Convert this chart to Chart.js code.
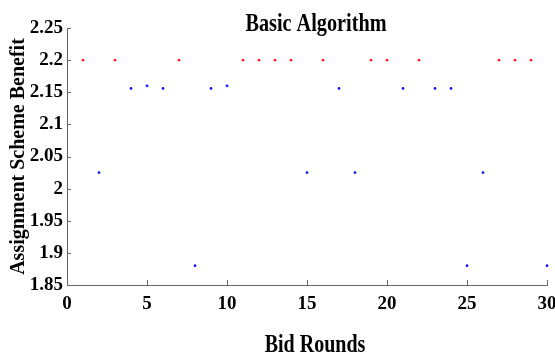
<!DOCTYPE html>
<html>
<head>
<meta charset="utf-8">
<script src="https://cdn.jsdelivr.net/npm/chart.js@4"></script>
<style>
  body { margin: 0; background: #fff; }
  #wrap { width: 555px; height: 355px; }
</style>
</head>
<body>
<div id="wrap"><canvas id="chartCanvas" width="555" height="355"></canvas></div>
<script>
const rounds = [1, 2, 3, 4, 5, 6, 7, 8, 9, 10, 11, 12, 13, 14, 15,
                16, 17, 18, 19, 20, 21, 22, 23, 24, 25, 26, 27, 28, 29, 30];
// red dots (top level) and blue dots, null where the round has none
const redBenefit = [2.2, null, 2.2, null, null, null, 2.2, null, null, null,
                    2.2, 2.2, 2.2, 2.2, null, 2.2, null, null, 2.2, 2.2,
                    null, 2.2, null, null, null, null, 2.2, 2.2, 2.2, null];
const blueBenefit = [null, 2.025, null, 2.156, 2.16, 2.156, null, 1.88, 2.156, 2.16,
                     null, null, null, null, 2.025, null, 2.156, 2.025, null, null,
                     2.156, null, 2.156, 2.156, 1.88, 2.025, null, null, null, 1.88];
const xTicks = [0, 5, 10, 15, 20, 25, 30];
const yTicks = [1.85, 1.9, 1.95, 2, 2.05, 2.1, 2.15, 2.2, 2.25];

const chartTitle = 'Basic Algorithm';
const xTitle = 'Bid Rounds';
const yTitle = 'Assignment Scheme Benefit';

function toPoints(values) {
  return rounds.map((r, i) => ({ x: r, y: values[i] })).filter(p => p.y !== null);
}

const serif = 'Liberation Serif, Times New Roman, serif';
const axisColor = '#666';

// narrow (squeezed) text like the original figure
function squeezedText(c, text, cx, baseline, size, sx) {
  c.save();
  c.translate(cx, baseline);
  c.scale(sx, 1);
  c.font = 'bold ' + size + 'px ' + serif;
  c.textAlign = 'center';
  c.textBaseline = 'alphabetic';
  c.fillStyle = '#000';
  c.fillText(text, 0, 0);
  c.restore();
}

// inward tick marks, chart title and x title
const extras = {
  id: 'extras',
  afterDraw(chart) {
    const c = chart.ctx;
    const area = chart.chartArea;
    const xs = chart.scales.x, ys = chart.scales.y;
    c.save();
    c.strokeStyle = axisColor;
    c.lineWidth = 1;
    c.beginPath();
    xTicks.forEach(v => {
      const px = Math.round(xs.getPixelForValue(v)) + 0.5;
      c.moveTo(px, area.bottom);
      c.lineTo(px, area.bottom - 5);
    });
    yTicks.forEach(v => {
      const py = Math.round(ys.getPixelForValue(v)) + 0.5;
      c.moveTo(area.left, py);
      c.lineTo(area.left + 4, py);
    });
    c.stroke();
    c.restore();

    const mid = (area.left + area.right) / 2;
    squeezedText(c, chartTitle, mid + 9, 31, 25, 0.81);
    squeezedText(c, xTitle, mid + 8, 352, 26, 0.77);
  }
};

const ctx = document.getElementById('chartCanvas').getContext('2d');
new Chart(ctx, {
  type: 'scatter',
  data: {
    datasets: [{
      label: 'red',
      data: toPoints(redBenefit),
      backgroundColor: '#ff2035',
      pointRadius: 1.4,
      pointBorderWidth: 0,
      clip: false
    }, {
      label: 'blue',
      data: toPoints(blueBenefit),
      backgroundColor: '#1a1aff',
      pointRadius: 1.4,
      pointBorderWidth: 0,
      clip: false
    }]
  },
  options: {
    responsive: false,
    animation: false,
    layout: { padding: { top: 28, right: 8, left: 0, bottom: 0 } },
    plugins: {
      legend: { display: false },
      title: { display: false },
      tooltip: { enabled: false }
    },
    scales: {
      x: {
        type: 'linear',
        min: 0,
        max: 30,
        afterBuildTicks: s => { s.ticks = xTicks.map(v => ({ value: v })); },
        afterFit: s => { s.height = 70; s.paddingLeft = 0; s.paddingRight = 0; },
        grid: { display: true, drawOnChartArea: false, drawTicks: false },
        border: { display: true, color: axisColor, width: 1 },
        ticks: {
          padding: 8,
          color: '#000',
          maxRotation: 0,
          font: { family: serif, size: 19, weight: 'bold' }
        },
        title: { display: false }
      },
      y: {
        min: 1.85,
        max: 2.25,
        afterBuildTicks: s => { s.ticks = yTicks.map(v => ({ value: v })); },
        afterFit: s => { s.width = 67; },
        grid: { display: true, drawOnChartArea: false, drawTicks: false },
        border: { display: true, color: axisColor, width: 1 },
        ticks: {
          padding: 4,
          color: '#000',
          font: { family: serif, size: 19, weight: 'bold' },
          callback: v => String(Number(v.toFixed(2)))
        },
        title: {
          display: true,
          text: yTitle,
          color: '#000',
          padding: { top: 7, bottom: 0 },
          font: { family: serif, size: 20, weight: 'bold' }
        }
      }
    }
  },
  plugins: [extras]
});
</script>
</body>
</html>
